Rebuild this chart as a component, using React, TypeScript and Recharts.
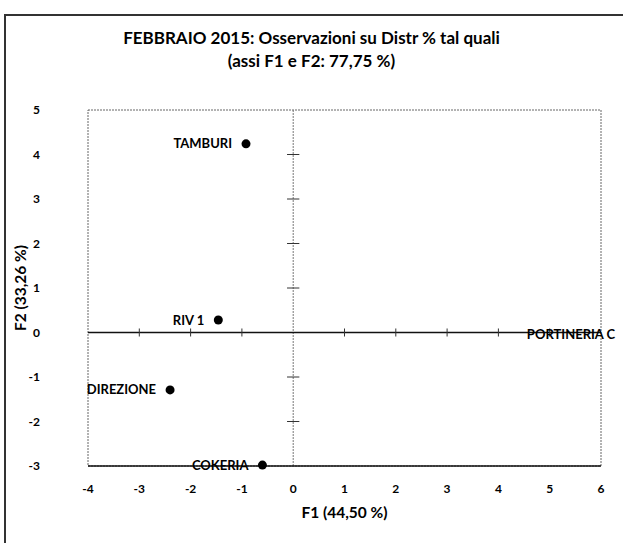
import { ScatterChart, Scatter, XAxis, YAxis, ReferenceLine, ReferenceArea, ReferenceDot } from "recharts";

const names = ["TAMBURI", "RIV 1", "DIREZIONE", "COKERIA", "PORTINERIA C"];
const f1 = [-0.92, -1.46, -2.4, -0.6, 6.55];
const f2 = [4.24, 0.28, -1.29, -2.98, -0.05];

const xTicks = [-4, -3, -2, -1, 0, 1, 2, 3, 4, 5, 6];
const yTicks = [-3, -2, -1, 0, 1, 2, 3, 4, 5];

const X_MIN = -4;
const X_MAX = 6;
const Y_MIN = -3;
const Y_MAX = 5;

const FONT = "Lato, 'Open Sans', sans-serif";

const points = names.map((name, i) => ({ name, x: f1[i], y: f2[i] }));
const inside = points.filter(p => p.x <= X_MAX);
const outside = points.filter(p => p.x > X_MAX);

const labelText = (x: number, y: number, name: string) => (
  <text x={x - 14} y={y} dy={4.5} textAnchor="end" fontFamily={FONT} fontWeight={700} fontSize={13} fill="#000">
    {name}
  </text>
);

const DotShape = (props: any) => {
  const { cx, cy, payload } = props;
  return (
    <g>
      <circle cx={cx} cy={cy} r={4.5} fill="#000" />
      {labelText(cx, cy, payload.name)}
    </g>
  );
};

export default function App() {
  return (
    <div style={{ position: "absolute", left: 0, top: 0, width: 623, height: 543, background: "#fff", overflow: "hidden" }}>
      <div
        style={{
          position: "absolute", left: 4, top: 14, width: 640, height: 560,
          borderTop: "2px solid #333", borderLeft: "2px solid #333", boxSizing: "border-box",
        }}
      />
      <div style={{ position: "absolute", left: 0, top: 26, width: 623, textAlign: "center", fontFamily: FONT, fontWeight: 700, fontSize: 17, lineHeight: "23px", color: "#000" }}>
        FEBBRAIO 2015: Osservazioni su Distr % tal quali
        <br />
        (assi F1 e F2: 77,75 %)
      </div>
      <div style={{ position: "absolute", left: 0, top: 0 }}>
        <ScatterChart width={623} height={543} margin={{ top: 110, right: 22, bottom: 17, left: 0 }}>
          <XAxis
            type="number"
            dataKey="x"
            domain={[X_MIN, X_MAX]}
            ticks={xTicks}
            interval={0}
            tickLine={false}
            tickSize={0}
            tickMargin={18}
            height={60}
            axisLine={{ stroke: "#111", strokeWidth: 1.5 }}
            tick={{ fontFamily: FONT, fontWeight: 700, fontSize: 12, fill: "#000" }}
            label={{ value: "F1 (44,50 %)", position: "insideBottom", offset: 8, style: { fontFamily: FONT, fontWeight: 700, fontSize: 15.5, fill: "#000" } }}
          />
          <YAxis
            type="number"
            dataKey="y"
            domain={[Y_MIN, Y_MAX]}
            ticks={yTicks}
            interval={0}
            tickLine={false}
            tickSize={0}
            tickMargin={48}
            width={88}
            axisLine={false}
            tick={{ fontFamily: FONT, fontWeight: 700, fontSize: 12, fill: "#000" }}
            label={{ value: "F2 (33,26 %)", angle: -90, position: "insideLeft", offset: 20, style: { textAnchor: "middle", fontFamily: FONT, fontWeight: 700, fontSize: 15.5, fill: "#000" } }}
          />
          <ReferenceArea x1={X_MIN} x2={X_MAX} y1={Y_MIN} y2={Y_MAX} fill="none" stroke="#666" strokeDasharray="2 1" />
          <ReferenceLine x={0} stroke="#777" strokeDasharray="2 1" />
          <ReferenceLine y={0} stroke="#111" strokeWidth={1.5} />
          {xTicks.filter(t => t !== 0 && t !== X_MIN && t !== X_MAX).map(t => (
            <ReferenceLine key={"xt" + t} segment={[{ x: t, y: -0.09 }, { x: t, y: 0.09 }]} stroke="#333" />
          ))}
          {yTicks.filter(t => t !== 0 && t !== Y_MIN && t !== Y_MAX).map(t => (
            <ReferenceLine key={"yt" + t} segment={[{ x: -0.12, y: t }, { x: 0.12, y: t }]} stroke="#333" />
          ))}
          <Scatter data={inside} shape={DotShape} isAnimationActive={false} />
          {outside.map(p => (
            <ReferenceDot
              key={p.name}
              x={p.x}
              y={p.y}
              r={0}
              ifOverflow="visible"
              shape={(props: any) => labelText(props.cx, props.cy, p.name)}
            />
          ))}
        </ScatterChart>
      </div>
    </div>
  );
}
